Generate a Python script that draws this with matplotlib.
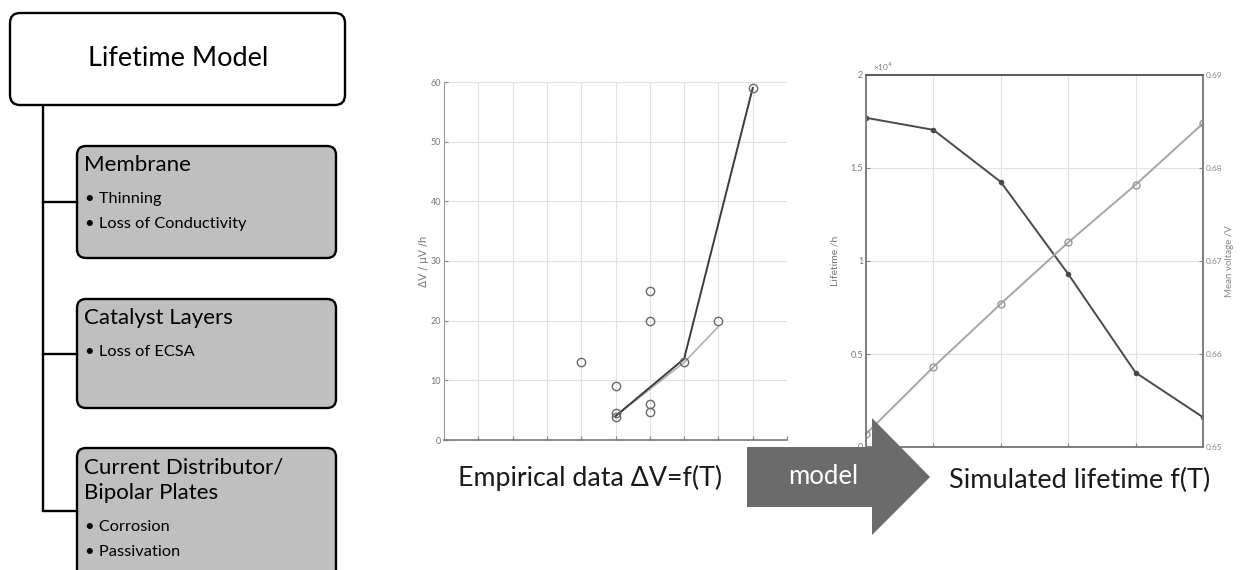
import matplotlib.pyplot as plt
from matplotlib.patches import FancyBboxPatch, Polygon

plt.rcParams['font.family'] = ['Lato', 'DejaVu Sans']

# empirical degradation data (left chart), x = temperature step index
emp_x = [4, 5, 5, 5, 6, 6, 6, 6, 7, 8, 9]
emp_y = [13, 9, 4.5, 3.8, 25, 20, 6.1, 4.7, 13, 20, 59]
fit_dark_x = [5, 7, 9]
fit_dark_y = [4, 13.6, 59]
fit_light_x = [5, 6, 7, 8]
fit_light_y = [4, 8.5, 13, 19]

# simulated lifetime (right chart)
sim_x = [0, 1, 2, 3, 4, 5]
lifetime_h = [17700, 17050, 14250, 9300, 4000, 1600]
mean_voltage = [0.6514, 0.6586, 0.6654, 0.6720, 0.6782, 0.6848]
life_ticks = [0, 5000, 10000, 15000, 20000]
life_labels = ['0', '0.5', '1', '1.5', '2']
volt_ticks = [0.65, 0.66, 0.67, 0.68, 0.69]

# tree diagram text
root_label = 'Lifetime Model'
branch_titles = [['Membrane'], ['Catalyst Layers'], ['Current Distributor/', 'Bipolar Plates']]
branch_items = [['Thinning', 'Loss of Conductivity'], ['Loss of ECSA'], ['Corrosion', 'Passivation']]

W, H = 1240, 570
fig = plt.figure(figsize=(W / 100, H / 100), dpi=100)

def px_axes(x0, y0, x1, y1, **kw):
    # axes from pixel box (top-left origin)
    return fig.add_axes([x0 / W, 1 - y1 / H, (x1 - x0) / W, (y1 - y0) / H], **kw)

# background axes for the tree diagram
bg = fig.add_axes([0, 0, 1, 1], zorder=0)
bg.set_xlim(0, W)
bg.set_ylim(H, 0)
bg.axis('off')

root = FancyBboxPatch((10, 13), 335, 92, boxstyle='round,pad=0,rounding_size=10',
                      fc='white', ec='black', lw=1.7)
bg.add_patch(root)
bg.text(178, 58, root_label, ha='center', va='center', fontsize=19.5)

box_tops = [146, 299, 448]
box_bots = [258, 408, 580]
branch_y = [202, 354, 511]
bg.plot([43, 43], [105, branch_y[-1]], color='black', lw=1.7, solid_capstyle='butt')
for titles, items, top, bot, by in zip(branch_titles, branch_items, box_tops, box_bots, branch_y):
    bg.plot([43, 77], [by, by], color='black', lw=1.7)
    bg.add_patch(FancyBboxPatch((77, top), 259, bot - top,
                                boxstyle='round,pad=0,rounding_size=9',
                                fc='#bfbfbf', ec='black', lw=1.7))
    yy = top + 19
    for t in titles:
        bg.text(84, yy, t, ha='left', va='center', fontsize=16)
        yy += 26
    yy += 8
    for it in items:
        bg.text(85, yy, '\u2022 ' + it, ha='left', va='center', fontsize=11.8)
        yy += 25

grid_kw = dict(color='#e2e2e2', lw=0.8)

# left chart: empirical data
ax1 = px_axes(444, 82, 787, 440, zorder=2)
ax1.set_xlim(0, 10)
ax1.set_ylim(0, 60)
ax1.set_xticks(range(0, 11))
ax1.set_xticklabels([])
ax1.set_yticks(range(0, 61, 10))
ax1.grid(True, **grid_kw)
ax1.plot(fit_light_x, fit_light_y, color='#b0b0b0', lw=1.2)
ax1.plot(fit_dark_x, fit_dark_y, color='#3c3c3c', lw=1.4)
ax1.plot(emp_x, emp_y, 'o', mfc='none', mec='#6a6a6a', ms=6, mew=1.0)
for s in ['top', 'right']:
    ax1.spines[s].set_visible(False)
ax1.spines['left'].set_color('#9a9a9a')
ax1.spines['bottom'].set_color('#777777')
ax1.spines['bottom'].set_linewidth(1.2)
ax1.tick_params(direction='in', length=3, colors='#888888', labelsize=6.5,
                labelcolor='#777777', pad=2)
ax1.set_ylabel('\u0394V / \u00b5V /h', fontsize=7.5, color='#777777', labelpad=1,
               family=['DejaVu Sans'])

# right chart: simulated lifetime
ax2 = px_axes(866, 75, 1203, 447, zorder=2)
ax2.set_xlim(0, 5)
ax2.set_ylim(0, 20000)
ax2.set_xticks(range(0, 6))
ax2.set_xticklabels([])
ax2.set_yticks(life_ticks)
ax2.set_yticklabels(life_labels)
ax2.grid(True, **grid_kw)
ax2.plot(sim_x, lifetime_h, color='#4a4a4a', lw=1.4, marker='o', ms=3,
         mfc='#4a4a4a', mec='#4a4a4a')
ax2.tick_params(direction='in', length=3, colors='#888888', labelsize=6.5,
                labelcolor='#777777', pad=2)
ax2.set_ylabel('Lifetime /h', fontsize=7.5, color='#777777', labelpad=8)
ax2.text(0.02, 1.005, '\u00d710$^4$', transform=ax2.transAxes, fontsize=6,
         color='#777777', ha='left', va='bottom')
for s in ax2.spines.values():
    s.set_color('#7a7a7a')
    s.set_linewidth(1.1)
ax2.spines['top'].set_color('#555555')

ax3 = ax2.twinx()
ax3.set_ylim(0.65, 0.69)
ax3.set_yticks(volt_ticks)
ax3.plot(sim_x, mean_voltage, color='#a6a6a6', lw=1.4, marker='o', ms=5,
         mfc='none', mec='#999999')
ax3.tick_params(direction='in', length=3, colors='#888888', labelsize=6,
                labelcolor='#888888', pad=2)
ax3.set_ylabel('Mean voltage /V', fontsize=7, color='#888888', labelpad=2)
for s in ax3.spines.values():
    s.set_color('#7a7a7a')
    s.set_linewidth(1.1)
ax3.spines['top'].set_color('#555555')

# overlay: arrow and captions
ov = fig.add_axes([0, 0, 1, 1], zorder=10)
ov.set_xlim(0, W)
ov.set_ylim(H, 0)
ov.axis('off')
ov.patch.set_alpha(0)
arrow = Polygon([(747, 447), (872, 447), (872, 418), (930, 477), (872, 535),
                 (872, 507), (747, 507)], closed=True, fc='#6b6b6b', ec='none')
ov.add_patch(arrow)
ov.text(823, 476, 'model', color='white', ha='center', va='center', fontsize=18.5)
ov.text(590, 478, 'Empirical data \u0394V=f(T)', ha='center', va='center',
        fontsize=19.3, color='#1a1a1a')
ov.text(1080, 480, 'Simulated lifetime f(T)', ha='center', va='center',
        fontsize=19.5, color='#1a1a1a')

fig.savefig('out.png', dpi=100)
